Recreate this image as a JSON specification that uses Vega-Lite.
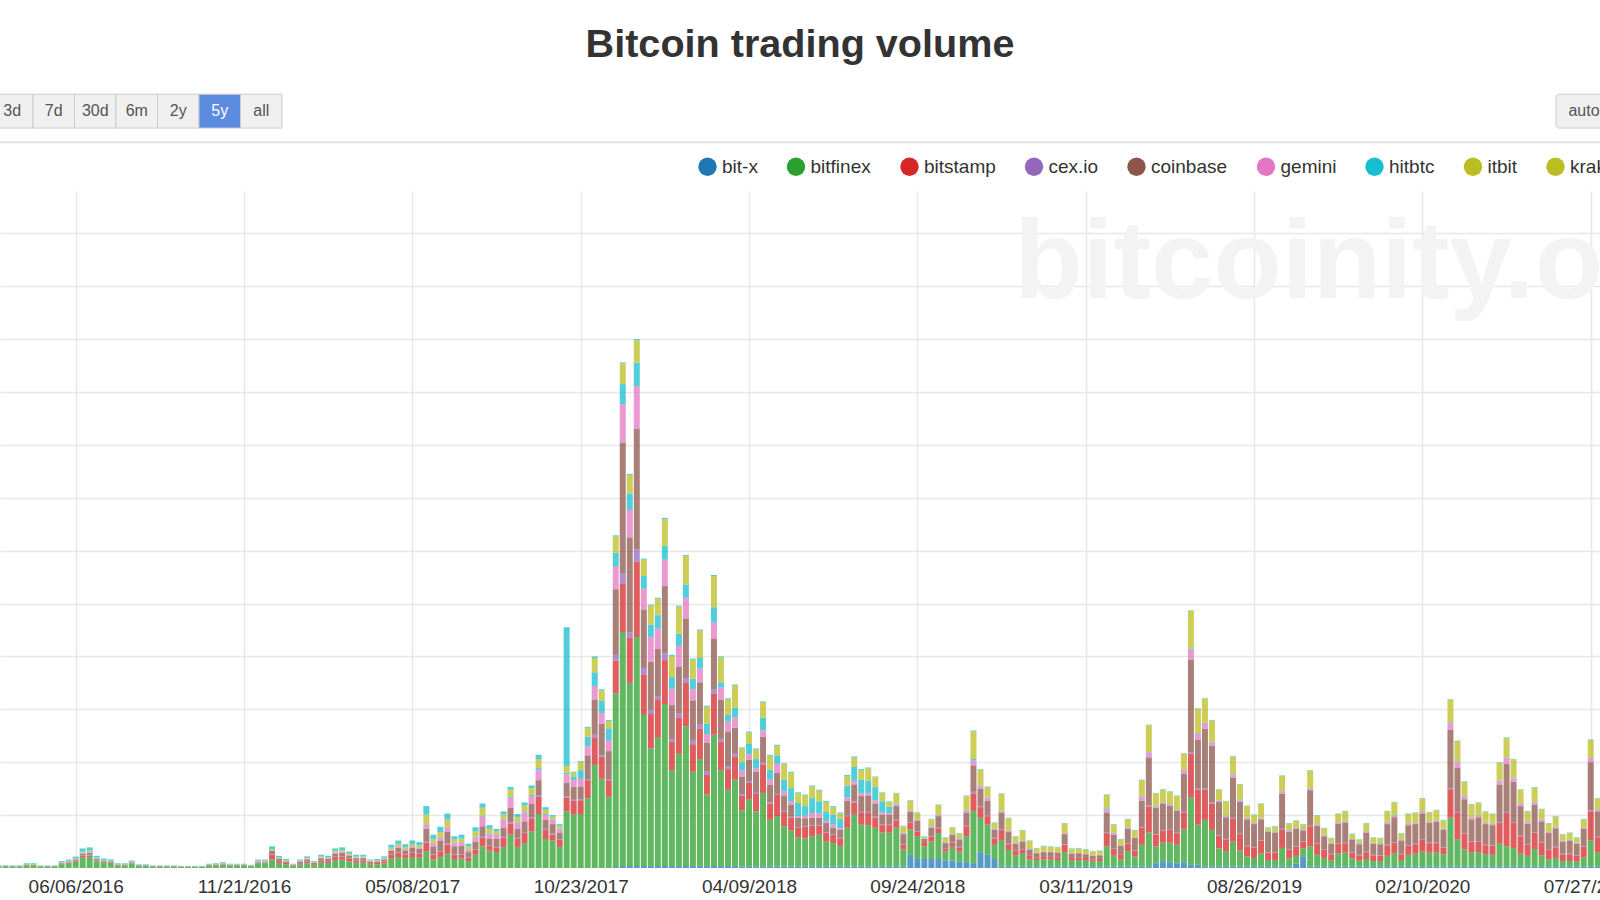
{
"$schema": "https://vega.github.io/schema/vega-lite/v6.json",
"width": 1600,
"height": 677,
"autosize": {"type": "none"},
"padding": {"top": 191, "left": 0, "right": 0, "bottom": 32},
"background": "white",
"config": {"view": {"stroke": null}, "font": "Liberation Sans"},
"title": {"text": "Bitcoin trading volume", "fontSize": 39.6, "fontWeight": "bold", "color": "#333333", "anchor": "middle", "frame": "group", "offset": 28, "font": "Liberation Sans"},
"resolve": {"scale": {"x": "independent"}},
"layer": [
{
"layer": [
{
"data": {"values": [{"label": "bitcoinity.org"}]},
"mark": {"type": "text", "fontSize": 112, "fontWeight": "bold", "font": "Liberation Sans", "color": "#f3f3f3", "align": "left", "baseline": "alphabetic"},
"encoding": {
"x": {"datum": {"year": 2018, "month": 12, "date": 29, "hours": 14, "utc": true}, "type": "temporal"},
"y": {"datum": 1078},
"text": {"field": "label"}
}
},
{
"data": {"values": [
{"d":"2016-03-21","bitfinex":2.8,"bitstamp":0.4,"cexio":0.2,"coinbase":0.4,"gemini":0.2,"hitbtc":0.1,"kraken":0.3,"others":0.6},
{"d":"2016-03-28","bitfinex":2.8,"bitstamp":0.4,"cexio":0.2,"coinbase":0.4,"gemini":0.2,"hitbtc":0.1,"kraken":0.3,"others":0.6},
{"d":"2016-04-04","bitfinex":2.8,"bitstamp":0.4,"cexio":0.2,"coinbase":0.4,"gemini":0.2,"hitbtc":0.1,"kraken":0.3,"others":0.6},
{"d":"2016-04-11","bitfinex":2.8,"bitstamp":0.4,"cexio":0.2,"coinbase":0.4,"gemini":0.2,"hitbtc":0.1,"kraken":0.3,"others":0.6},
{"d":"2016-04-18","bitfinex":5,"bitstamp":0.6,"cexio":0.4,"coinbase":0.7,"gemini":0.3,"hitbtc":0.2,"kraken":0.5,"others":1.3},
{"d":"2016-04-25","bitfinex":5,"bitstamp":0.6,"cexio":0.4,"coinbase":0.7,"gemini":0.3,"hitbtc":0.2,"kraken":0.5,"others":1.3},
{"d":"2016-05-02","bitfinex":2.8,"bitstamp":0.4,"cexio":0.2,"coinbase":0.4,"gemini":0.2,"hitbtc":0.1,"kraken":0.3,"others":0.6},
{"d":"2016-05-09","bitfinex":2.8,"bitstamp":0.4,"cexio":0.2,"coinbase":0.4,"gemini":0.2,"hitbtc":0.1,"kraken":0.3,"others":0.6},
{"d":"2016-05-16","bitfinex":2.8,"bitstamp":0.4,"cexio":0.2,"coinbase":0.4,"gemini":0.2,"hitbtc":0.1,"kraken":0.3,"others":0.6},
{"d":"2016-05-23","bitfinex":7,"bitstamp":1,"cexio":0.5,"coinbase":1,"gemini":0.4,"hitbtc":0.3,"kraken":0.8,"others":2},
{"d":"2016-05-30","bitfinex":9,"bitstamp":1.1,"cexio":0.6,"coinbase":1.3,"gemini":0.5,"hitbtc":0.3,"kraken":1,"others":2.2},
{"d":"2016-06-06","bit-x":0.5,"bitfinex":11.5,"bitstamp":1.5,"cexio":0.8,"coinbase":1.7,"gemini":0.6,"hitbtc":0.4,"kraken":1.3,"others":3.2},
{"d":"2016-06-13","bitfinex":20,"bitstamp":2.6,"cexio":1.5,"coinbase":3,"gemini":1.1,"hitbtc":0.7,"kraken":2.2,"others":5.9},
{"d":"2016-06-20","bitfinex":21,"bitstamp":2.7,"cexio":1.6,"coinbase":3.1,"gemini":1.2,"hitbtc":0.8,"kraken":2.4,"others":6.2},
{"d":"2016-06-27","bitfinex":12.6,"bitstamp":1.6,"cexio":0.9,"coinbase":1.8,"gemini":0.7,"hitbtc":0.5,"kraken":1.4,"others":3.5},
{"d":"2016-07-04","bitfinex":10,"bitstamp":1.2,"cexio":0.7,"coinbase":1.4,"gemini":0.5,"hitbtc":0.4,"kraken":1.1,"others":2.7},
{"d":"2016-07-11","bit-x":0.5,"bitfinex":9,"bitstamp":1.1,"cexio":0.6,"coinbase":1.3,"gemini":0.5,"hitbtc":0.3,"kraken":1,"others":2.2},
{"d":"2016-07-18","bitfinex":5,"bitstamp":0.6,"cexio":0.4,"coinbase":0.7,"gemini":0.3,"hitbtc":0.2,"kraken":0.5,"others":1.3},
{"d":"2016-07-25","bitfinex":5,"bitstamp":0.6,"cexio":0.4,"coinbase":0.7,"gemini":0.3,"hitbtc":0.2,"kraken":0.5,"others":1.3},
{"d":"2016-08-01","bitfinex":7.7,"bitstamp":1,"cexio":0.5,"coinbase":1.1,"gemini":0.4,"hitbtc":0.3,"kraken":0.8,"others":2.2},
{"d":"2016-08-08","bitfinex":3.9,"bitstamp":0.5,"cexio":0.3,"coinbase":0.5,"gemini":0.2,"hitbtc":0.1,"kraken":0.4,"others":1.1},
{"d":"2016-08-15","bitfinex":3.9,"bitstamp":0.5,"cexio":0.3,"coinbase":0.5,"gemini":0.2,"hitbtc":0.1,"kraken":0.4,"others":1.1},
{"d":"2016-08-22","bitfinex":2.8,"bitstamp":0.4,"cexio":0.2,"coinbase":0.4,"gemini":0.2,"hitbtc":0.1,"kraken":0.3,"others":0.6},
{"d":"2016-08-29","bitfinex":2.8,"bitstamp":0.4,"cexio":0.2,"coinbase":0.4,"gemini":0.2,"hitbtc":0.1,"kraken":0.3,"others":0.6},
{"d":"2016-09-05","bitfinex":2.8,"bitstamp":0.4,"cexio":0.2,"coinbase":0.4,"gemini":0.2,"hitbtc":0.1,"kraken":0.3,"others":0.6},
{"d":"2016-09-12","bitfinex":2.8,"bitstamp":0.4,"cexio":0.2,"coinbase":0.4,"gemini":0.2,"hitbtc":0.1,"kraken":0.3,"others":0.6},
{"d":"2016-09-19","bitfinex":2.2,"bitstamp":0.3,"cexio":0.2,"coinbase":0.3,"gemini":0.1,"hitbtc":0.1,"kraken":0.3,"others":0.5},
{"d":"2016-09-26","bitfinex":2.2,"bitstamp":0.3,"cexio":0.2,"coinbase":0.3,"gemini":0.1,"hitbtc":0.1,"kraken":0.3,"others":0.5},
{"d":"2016-10-03","bitfinex":2.2,"bitstamp":0.3,"cexio":0.2,"coinbase":0.3,"gemini":0.1,"hitbtc":0.1,"kraken":0.3,"others":0.5},
{"d":"2016-10-10","bitfinex":2.2,"bitstamp":0.3,"cexio":0.2,"coinbase":0.3,"gemini":0.1,"hitbtc":0.1,"kraken":0.3,"others":0.5},
{"d":"2016-10-17","bitfinex":4.4,"bitstamp":0.6,"cexio":0.3,"coinbase":0.6,"gemini":0.2,"hitbtc":0.2,"kraken":0.5,"others":1.2},
{"d":"2016-10-24","bitfinex":5,"bitstamp":0.6,"cexio":0.4,"coinbase":0.7,"gemini":0.3,"hitbtc":0.2,"kraken":0.5,"others":1.3},
{"d":"2016-10-31","bitfinex":6,"bitstamp":0.8,"cexio":0.4,"coinbase":0.9,"gemini":0.3,"hitbtc":0.2,"kraken":0.7,"others":1.7},
{"d":"2016-11-07","bitfinex":4.4,"bitstamp":0.6,"cexio":0.3,"coinbase":0.6,"gemini":0.2,"hitbtc":0.2,"kraken":0.5,"others":1.2},
{"d":"2016-11-14","bitfinex":4.4,"bitstamp":0.6,"cexio":0.3,"coinbase":0.6,"gemini":0.2,"hitbtc":0.2,"kraken":0.5,"others":1.2},
{"d":"2016-11-21","bitfinex":4.4,"bitstamp":0.6,"cexio":0.3,"coinbase":0.6,"gemini":0.2,"hitbtc":0.2,"kraken":0.5,"others":1.2},
{"d":"2016-11-28","bitfinex":3.3,"bitstamp":0.4,"cexio":0.2,"coinbase":0.5,"gemini":0.2,"hitbtc":0.1,"kraken":0.4,"others":0.9},
{"d":"2016-12-05","bitfinex":9,"bitstamp":1.1,"cexio":0.6,"coinbase":1.3,"gemini":0.5,"hitbtc":0.3,"kraken":1,"others":2.2},
{"d":"2016-12-12","bitfinex":9,"bitstamp":1.1,"cexio":0.6,"coinbase":1.3,"gemini":0.5,"hitbtc":0.3,"kraken":1,"others":2.2},
{"d":"2016-12-19","bitfinex":16,"bitstamp":9,"cexio":1,"coinbase":6,"gemini":1.5,"hitbtc":0.5,"kraken":2,"others":5},
{"d":"2016-12-26","bitfinex":9.2,"bitstamp":3.7,"cexio":0.5,"coinbase":3.7,"gemini":1.2,"hitbtc":0.2,"kraken":1.8,"others":2.7},
{"d":"2017-01-02","bitfinex":6.8,"bitstamp":2.7,"cexio":0.3,"coinbase":2.7,"gemini":0.9,"hitbtc":0.2,"kraken":1.4,"others":2},
{"d":"2017-01-09","bitfinex":3.2,"bitstamp":1.3,"cexio":0.2,"coinbase":1.3,"gemini":0.4,"hitbtc":0.1,"kraken":0.6,"others":0.9},
{"d":"2017-01-16","bitfinex":6.4,"bitstamp":2.6,"cexio":0.3,"coinbase":2.6,"gemini":0.8,"hitbtc":0.2,"kraken":1.3,"others":1.8},
{"d":"2017-01-23","bitfinex":8.8,"bitstamp":3.5,"cexio":0.4,"coinbase":3.5,"gemini":1.1,"hitbtc":0.2,"kraken":1.8,"others":2.7},
{"d":"2017-01-30","bitfinex":5.2,"bitstamp":2.1,"cexio":0.3,"coinbase":2.1,"gemini":0.6,"hitbtc":0.1,"kraken":1,"others":1.6},
{"d":"2017-02-06","bitfinex":10,"bitstamp":4,"cexio":0.5,"coinbase":4,"gemini":1.2,"hitbtc":0.3,"kraken":2,"others":3},
{"d":"2017-02-13","bitfinex":9.2,"bitstamp":3.7,"cexio":0.5,"coinbase":3.7,"gemini":1.2,"hitbtc":0.2,"kraken":1.8,"others":2.7},
{"d":"2017-02-20","bitfinex":14.8,"bitstamp":5.9,"cexio":0.7,"coinbase":5.9,"gemini":1.9,"hitbtc":0.4,"kraken":3,"others":4.4},
{"d":"2017-02-27","bitfinex":15.6,"bitstamp":6.2,"cexio":0.8,"coinbase":6.2,"gemini":2,"hitbtc":0.4,"kraken":3.1,"others":4.7},
{"d":"2017-03-06","bitfinex":12.4,"bitstamp":5,"cexio":0.6,"coinbase":5,"gemini":1.5,"hitbtc":0.3,"kraken":2.5,"others":3.7},
{"d":"2017-03-13","bitfinex":10,"bitstamp":4,"cexio":0.5,"coinbase":4,"gemini":1.2,"hitbtc":0.3,"kraken":2,"others":3},
{"d":"2017-03-20","bitfinex":10,"bitstamp":4,"cexio":0.5,"coinbase":4,"gemini":1.2,"hitbtc":0.3,"kraken":2,"others":3},
{"d":"2017-03-27","bitfinex":6.4,"bitstamp":2.6,"cexio":0.3,"coinbase":2.6,"gemini":0.8,"hitbtc":0.2,"kraken":1.3,"others":1.8},
{"d":"2017-04-03","bitfinex":6.8,"bitstamp":2.7,"cexio":0.3,"coinbase":2.7,"gemini":0.9,"hitbtc":0.2,"kraken":1.4,"others":2},
{"d":"2017-04-10","bitfinex":8.8,"bitstamp":3.5,"cexio":0.4,"coinbase":3.5,"gemini":1.1,"hitbtc":0.2,"kraken":1.8,"others":2.7},
{"d":"2017-04-17","bitfinex":17.6,"bitstamp":7,"cexio":0.9,"coinbase":7,"gemini":2.2,"hitbtc":0.4,"kraken":3.5,"others":5.4},
{"d":"2017-04-24","bitfinex":20.8,"bitstamp":8.3,"cexio":1,"coinbase":8.3,"gemini":2.6,"hitbtc":0.5,"kraken":4.2,"others":6.3},
{"d":"2017-05-01","bitfinex":18,"bitstamp":7.2,"cexio":0.9,"coinbase":7.2,"gemini":2.3,"hitbtc":0.4,"kraken":3.6,"others":5.4},
{"d":"2017-05-08","bitfinex":20.8,"bitstamp":8.3,"cexio":1,"coinbase":8.3,"gemini":2.6,"hitbtc":0.5,"kraken":4.2,"others":6.3},
{"d":"2017-05-15","bitfinex":19.6,"bitstamp":7.8,"cexio":1,"coinbase":7.8,"gemini":2.5,"hitbtc":0.5,"kraken":3.9,"others":5.9},
{"d":"2017-05-22","bitfinex":31,"bitstamp":17,"cexio":3,"coinbase":23,"gemini":8,"hitbtc":1,"kraken":18,"others":16},
{"d":"2017-05-29","bitfinex":16,"bitstamp":9,"cexio":1,"coinbase":15,"gemini":6,"hitbtc":1,"kraken":7,"others":8},
{"d":"2017-06-05","bitfinex":20,"bitstamp":11,"cexio":1,"coinbase":20,"gemini":6,"hitbtc":1,"kraken":9,"others":10},
{"d":"2017-06-12","bitfinex":27,"bitstamp":17,"cexio":2,"coinbase":23,"gemini":8,"hitbtc":1,"kraken":14,"others":11},
{"d":"2017-06-19","bitfinex":17,"bitstamp":8,"cexio":1,"coinbase":15,"gemini":6,"hitbtc":1,"kraken":6,"others":6},
{"d":"2017-06-26","bitfinex":18,"bitstamp":7,"cexio":1,"coinbase":16,"gemini":6,"hitbtc":1,"kraken":7,"others":7},
{"d":"2017-07-03","bitfinex":13,"bitstamp":6,"cexio":1,"coinbase":10,"gemini":4,"hitbtc":1,"kraken":6,"others":5},
{"d":"2017-07-10","bitfinex":25,"bitstamp":9,"cexio":1,"coinbase":15,"gemini":8,"hitbtc":1,"kraken":10,"others":8},
{"d":"2017-07-17","bitfinex":41,"bitstamp":16,"cexio":2,"coinbase":20,"gemini":19,"hitbtc":1,"kraken":15,"others":8},
{"d":"2017-07-24","bitfinex":33,"bitstamp":9,"cexio":1,"coinbase":13,"gemini":9,"hitbtc":1,"kraken":8,"others":7},
{"d":"2017-07-31","bitfinex":30,"bitstamp":8,"cexio":1,"coinbase":16,"gemini":8,"hitbtc":1,"kraken":6,"others":4},
{"d":"2017-08-07","bitfinex":40,"bitstamp":17,"cexio":2,"coinbase":17,"gemini":16,"hitbtc":1,"kraken":8,"others":6},
{"d":"2017-08-14","bitfinex":63,"bitstamp":21,"cexio":2,"coinbase":28,"gemini":19,"hitbtc":2,"kraken":13,"others":5},
{"d":"2017-08-21","bitfinex":40,"bitstamp":15,"cexio":2,"coinbase":17,"gemini":12,"hitbtc":1,"kraken":9,"others":6},
{"d":"2017-08-28","bitfinex":47,"bitstamp":19,"cexio":2,"coinbase":20,"gemini":17,"hitbtc":2,"kraken":11,"others":6},
{"d":"2017-09-04","bitfinex":69,"bitstamp":25,"cexio":2,"coinbase":26,"gemini":14,"hitbtc":2,"kraken":13,"others":5},
{"d":"2017-09-11","bitfinex":102,"bitstamp":33,"cexio":3,"coinbase":28,"gemini":20,"hitbtc":3,"kraken":17,"others":8},
{"d":"2017-09-18","bitfinex":55,"bitstamp":17,"cexio":2,"coinbase":17,"gemini":9,"hitbtc":2,"kraken":8,"others":5},
{"d":"2017-09-25","bitfinex":52,"bitstamp":11,"cexio":2,"coinbase":18,"gemini":8,"hitbtc":1,"kraken":5,"others":3},
{"d":"2017-10-02","bitfinex":40,"bitstamp":13,"cexio":1,"coinbase":13,"gemini":6,"hitbtc":1,"kraken":6,"others":3},
{"d":"2017-10-09","bitfinex":107,"bitstamp":26,"cexio":2,"coinbase":26,"gemini":16,"hitbtc":3,"kraken":13,"others":262},
{"d":"2017-10-16","bitfinex":101,"bitstamp":26,"cexio":2,"coinbase":24,"gemini":13,"hitbtc":6,"kraken":8,"others":2},
{"d":"2017-10-23","bitfinex":102,"bitstamp":26,"cexio":2,"coinbase":24,"gemini":15,"hitbtc":16,"kraken":15,"others":2},
{"d":"2017-10-30","bitfinex":132,"bitstamp":34,"cexio":2,"coinbase":45,"gemini":17,"hitbtc":18,"kraken":17,"others":2},
{"d":"2017-11-06","bitfinex":195,"bitstamp":52,"cexio":5,"coinbase":66,"gemini":26,"hitbtc":26,"kraken":27,"others":3},
{"d":"2017-11-13","bitfinex":169,"bitstamp":41,"cexio":3,"coinbase":60,"gemini":20,"hitbtc":23,"kraken":20,"others":2},
{"d":"2017-11-20","bitfinex":135,"bitstamp":31,"cexio":2,"coinbase":53,"gemini":20,"hitbtc":23,"kraken":14,"others":2},
{"d":"2017-11-27","bit-x":2,"bitfinex":328,"bitstamp":62,"cexio":11,"coinbase":124,"gemini":44,"hitbtc":25,"kraken":31,"others":2},
{"d":"2017-12-04","bit-x":4,"bitfinex":442,"bitstamp":91,"cexio":20,"coinbase":247,"gemini":73,"hitbtc":38,"kraken":39,"others":2},
{"d":"2017-12-11","bit-x":4,"bitfinex":346,"bitstamp":86,"cexio":10,"coinbase":179,"gemini":52,"hitbtc":31,"kraken":35,"others":2},
{"d":"2017-12-18","bit-x":4,"bitfinex":433,"bitstamp":142,"cexio":23,"coinbase":228,"gemini":81,"hitbtc":44,"kraken":43,"others":2},
{"d":"2017-12-25","bit-x":4,"bitfinex":287,"bitstamp":75,"cexio":12,"coinbase":111,"gemini":39,"hitbtc":24,"kraken":31,"others":2},
{"d":"2018-01-01","bit-x":4,"bitfinex":222,"bitstamp":65,"cexio":8,"coinbase":91,"gemini":47,"hitbtc":23,"kraken":36,"others":2},
{"d":"2018-01-08","bit-x":4,"bitfinex":243,"bitstamp":72,"cexio":6,"coinbase":89,"gemini":39,"hitbtc":25,"kraken":31,"others":2},
{"d":"2018-01-15","bit-x":4,"bitfinex":306,"bitstamp":83,"cexio":13,"coinbase":127,"gemini":50,"hitbtc":26,"kraken":51,"others":2},
{"d":"2018-01-22","bit-x":4,"bitfinex":181,"bitstamp":53,"cexio":5,"coinbase":65,"gemini":31,"hitbtc":22,"kraken":40,"others":2},
{"d":"2018-01-29","bit-x":4,"bitfinex":212,"bitstamp":68,"cexio":8,"coinbase":89,"gemini":39,"hitbtc":23,"kraken":51,"others":2},
{"d":"2018-02-05","bit-x":4,"bitfinex":264,"bitstamp":83,"cexio":8,"coinbase":113,"gemini":39,"hitbtc":25,"kraken":54,"others":2},
{"d":"2018-02-12","bit-x":4,"bitfinex":178,"bitstamp":52,"cexio":8,"coinbase":75,"gemini":21,"hitbtc":20,"kraken":36,"others":2},
{"d":"2018-02-19","bit-x":4,"bitfinex":202,"bitstamp":57,"cexio":8,"coinbase":80,"gemini":26,"hitbtc":20,"kraken":52,"others":2},
{"d":"2018-02-26","bit-x":4,"bitfinex":135,"bitstamp":37,"cexio":6,"coinbase":55,"gemini":16,"hitbtc":20,"kraken":32,"others":2},
{"d":"2018-03-05","bit-x":4,"bitfinex":248,"bitstamp":78,"cexio":8,"coinbase":96,"gemini":30,"hitbtc":29,"kraken":59,"others":2},
{"d":"2018-03-12","bit-x":4,"bitfinex":181,"bitstamp":53,"cexio":5,"coinbase":75,"gemini":23,"hitbtc":10,"kraken":47,"others":2},
{"d":"2018-03-19","bit-x":4,"bitfinex":144,"bitstamp":39,"cexio":5,"coinbase":65,"gemini":20,"hitbtc":13,"kraken":29,"others":2},
{"d":"2018-03-26","bit-x":4,"bitfinex":163,"bitstamp":44,"cexio":5,"coinbase":49,"gemini":20,"hitbtc":18,"kraken":42,"others":2},
{"d":"2018-04-02","bit-x":3,"bitfinex":106,"bitstamp":28,"cexio":3,"coinbase":33,"gemini":11,"hitbtc":16,"kraken":26,"others":2},
{"d":"2018-04-09","bit-x":3,"bitfinex":127,"bitstamp":31,"cexio":3,"coinbase":41,"gemini":10,"hitbtc":20,"kraken":21,"others":2},
{"d":"2018-04-16","bit-x":3,"bitfinex":104,"bitstamp":33,"cexio":2,"coinbase":40,"gemini":6,"hitbtc":18,"kraken":18,"others":2},
{"d":"2018-04-23","bit-x":3,"bitfinex":139,"bitstamp":54,"cexio":3,"coinbase":49,"gemini":12,"hitbtc":24,"kraken":29,"others":2},
{"d":"2018-04-30","bit-x":3,"bitfinex":88,"bitstamp":31,"cexio":2,"coinbase":33,"gemini":10,"hitbtc":19,"kraken":26,"others":2},
{"d":"2018-05-07","bit-x":3,"bitfinex":95,"bitstamp":40,"cexio":2,"coinbase":40,"gemini":17,"hitbtc":16,"kraken":18,"others":2},
{"d":"2018-05-14","bit-x":3,"bitfinex":76,"bitstamp":27,"cexio":2,"coinbase":28,"gemini":9,"hitbtc":22,"kraken":29,"others":2},
{"d":"2018-05-21","bit-x":3,"bitfinex":68,"bitstamp":24,"cexio":2,"coinbase":23,"gemini":6,"hitbtc":25,"kraken":29,"others":2},
{"d":"2018-05-28","bit-x":3,"bitfinex":55,"bitstamp":18,"cexio":1,"coinbase":18,"gemini":3,"hitbtc":25,"kraken":18,"others":2},
{"d":"2018-06-04","bit-x":3,"bitfinex":53,"bitstamp":22,"cexio":1,"coinbase":15,"gemini":5,"hitbtc":18,"kraken":20,"others":2},
{"d":"2018-06-11","bit-x":3,"bitfinex":57,"bitstamp":20,"cexio":1,"coinbase":14,"gemini":9,"hitbtc":28,"kraken":22,"others":2},
{"d":"2018-06-18","bit-x":3,"bitfinex":60,"bitstamp":17,"cexio":1,"coinbase":14,"gemini":8,"hitbtc":23,"kraken":20,"others":2},
{"d":"2018-06-25","bit-x":3,"bitfinex":47,"bitstamp":17,"cexio":1,"coinbase":17,"gemini":4,"hitbtc":17,"kraken":19,"others":2},
{"d":"2018-07-02","bit-x":3,"bitfinex":44,"bitstamp":16,"cexio":1,"coinbase":12,"gemini":6,"hitbtc":19,"kraken":14,"others":2},
{"d":"2018-07-09","bit-x":3,"bitfinex":39,"bitstamp":14,"cexio":1,"coinbase":15,"gemini":3,"hitbtc":18,"kraken":10,"others":2},
{"d":"2018-07-16","bit-x":3,"bitfinex":73,"bitstamp":22,"cexio":2,"coinbase":27,"gemini":6,"hitbtc":23,"kraken":18,"others":2},
{"d":"2018-07-23","bit-x":3,"bitfinex":98,"bitstamp":23,"cexio":2,"coinbase":32,"gemini":6,"hitbtc":27,"kraken":18,"others":2},
{"d":"2018-07-30","bit-x":3,"bitfinex":79,"bitstamp":22,"cexio":2,"coinbase":30,"gemini":5,"hitbtc":26,"kraken":18,"others":2},
{"d":"2018-08-06","bit-x":3,"bitfinex":78,"bitstamp":23,"cexio":2,"coinbase":31,"gemini":5,"hitbtc":23,"kraken":23,"others":2},
{"d":"2018-08-13","bit-x":3,"bitfinex":73,"bitstamp":19,"cexio":2,"coinbase":25,"gemini":6,"hitbtc":25,"kraken":19,"others":1},
{"d":"2018-08-20","bit-x":3,"bitfinex":64,"bitstamp":14,"cexio":1,"coinbase":19,"gemini":4,"hitbtc":21,"kraken":16,"others":1},
{"d":"2018-08-27","bit-x":3,"bitfinex":64,"bitstamp":14,"cexio":1,"coinbase":19,"gemini":3,"hitbtc":12,"kraken":9,"others":1},
{"d":"2018-09-03","bit-x":3,"bitfinex":73,"bitstamp":14,"cexio":1,"coinbase":26,"gemini":3,"hitbtc":2,"kraken":19,"others":1},
{"d":"2018-09-10","bit-x":3,"bitfinex":32,"bitstamp":9,"cexio":1,"coinbase":19,"gemini":2,"hitbtc":1,"kraken":12,"others":1},
{"d":"2018-09-17","bit-x":25,"bitfinex":48,"bitstamp":13,"cexio":1,"coinbase":19,"gemini":2,"hitbtc":1,"kraken":18,"others":1},
{"d":"2018-09-24","bit-x":17,"bitfinex":43,"bitstamp":9,"cexio":1,"coinbase":19,"gemini":2,"hitbtc":1,"kraken":12,"others":1},
{"d":"2018-10-01","bit-x":17,"bitfinex":24,"bitstamp":8,"coinbase":6,"gemini":1,"kraken":3,"others":1},
{"d":"2018-10-08","bit-x":17,"bitfinex":33,"bitstamp":9,"cexio":1,"coinbase":16,"gemini":2,"hitbtc":1,"kraken":13,"others":1},
{"d":"2018-10-15","bit-x":17,"bitfinex":49,"bitstamp":9,"cexio":1,"coinbase":22,"gemini":2,"hitbtc":1,"kraken":18,"others":1},
{"d":"2018-10-22","bit-x":14,"bitfinex":17,"bitstamp":6,"coinbase":10,"gemini":1,"hitbtc":1,"kraken":8,"others":1},
{"d":"2018-10-29","bit-x":14,"bitfinex":26,"bitstamp":8,"cexio":1,"coinbase":14,"gemini":1,"hitbtc":1,"kraken":11,"others":1},
{"d":"2018-11-05","bit-x":12,"bitfinex":19,"bitstamp":8,"cexio":1,"coinbase":14,"gemini":1,"hitbtc":1,"kraken":9,"others":1},
{"d":"2018-11-12","bit-x":11,"bitfinex":49,"bitstamp":19,"cexio":1,"coinbase":25,"gemini":4,"hitbtc":1,"kraken":26,"others":1},
{"d":"2018-11-19","bit-x":9,"bitfinex":99,"bitstamp":33,"cexio":3,"coinbase":50,"gemini":9,"hitbtc":3,"kraken":52,"others":2},
{"d":"2018-11-26","bit-x":30,"bitfinex":65,"bitstamp":20,"cexio":2,"coinbase":33,"gemini":5,"hitbtc":1,"kraken":30,"others":1},
{"d":"2018-12-03","bit-x":25,"bitfinex":57,"bitstamp":16,"cexio":1,"coinbase":28,"gemini":5,"hitbtc":1,"kraken":20,"others":1},
{"d":"2018-12-10","bit-x":17,"bitfinex":27,"bitstamp":12,"cexio":1,"coinbase":15,"gemini":2,"hitbtc":1,"kraken":10,"others":1},
{"d":"2018-12-17","bit-x":3,"bitfinex":50,"bitstamp":19,"cexio":1,"coinbase":31,"gemini":3,"hitbtc":1,"kraken":32,"others":1},
{"d":"2018-12-24","bit-x":3,"bitfinex":31,"bitstamp":11,"cexio":1,"coinbase":22,"gemini":2,"hitbtc":1,"kraken":23,"others":1},
{"d":"2018-12-31","bit-x":3,"bitfinex":21,"bitstamp":9,"coinbase":13,"gemini":1,"hitbtc":1,"kraken":11,"others":1},
{"d":"2019-01-07","bit-x":3,"bitfinex":24,"bitstamp":8,"cexio":1,"coinbase":14,"gemini":1,"hitbtc":1,"kraken":19,"others":1},
{"d":"2019-01-14","bit-x":3,"bitfinex":13,"bitstamp":8,"coinbase":11,"gemini":1,"hitbtc":1,"kraken":14,"others":1},
{"d":"2019-01-21","bit-x":3,"bitfinex":12,"bitstamp":5,"coinbase":8,"gemini":1,"kraken":8,"others":1},
{"d":"2019-01-28","bit-x":3,"bitfinex":13,"bitstamp":5,"coinbase":9,"gemini":1,"kraken":10,"others":1},
{"d":"2019-02-04","bit-x":3,"bitfinex":13,"bitstamp":5,"coinbase":9,"gemini":1,"kraken":9,"others":1},
{"d":"2019-02-11","bit-x":3,"bitfinex":12,"bitstamp":5,"coinbase":9,"gemini":1,"kraken":9,"others":1},
{"d":"2019-02-18","bit-x":3,"bitfinex":27,"bitstamp":14,"cexio":1,"coinbase":19,"gemini":2,"kraken":18,"others":1},
{"d":"2019-02-25","bit-x":3,"bitfinex":11,"bitstamp":5,"coinbase":8,"gemini":1,"kraken":8,"others":1},
{"d":"2019-03-04","bit-x":3,"bitfinex":12,"bitstamp":5,"coinbase":8,"gemini":1,"kraken":8,"others":1},
{"d":"2019-03-11","bit-x":3,"bitfinex":11,"bitstamp":5,"coinbase":7,"gemini":1,"kraken":8,"others":1},
{"d":"2019-03-18","bit-x":3,"bitfinex":9,"bitstamp":4,"coinbase":7,"gemini":1,"kraken":7,"others":1},
{"d":"2019-03-25","bit-x":3,"bitfinex":10,"bitstamp":4,"coinbase":7,"gemini":1,"kraken":7,"others":1},
{"d":"2019-04-01","bit-x":3,"bitfinex":38,"bitstamp":25,"cexio":1,"coinbase":38,"gemini":6,"hitbtc":2,"kraken":25,"others":1},
{"d":"2019-04-08","bit-x":3,"bitfinex":20,"bitstamp":13,"cexio":1,"coinbase":26,"gemini":3,"hitbtc":1,"kraken":15,"others":1},
{"d":"2019-04-15","bit-x":3,"bitfinex":13,"bitstamp":9,"coinbase":17,"gemini":1,"kraken":11,"others":1},
{"d":"2019-04-22","bit-x":3,"bitfinex":29,"bitstamp":14,"cexio":1,"coinbase":27,"gemini":2,"hitbtc":1,"kraken":15,"others":1},
{"d":"2019-04-29","bit-x":3,"bitfinex":19,"bitstamp":11,"cexio":1,"coinbase":23,"gemini":1,"kraken":13,"others":1},
{"d":"2019-05-06","bit-x":3,"bitfinex":41,"bitstamp":32,"cexio":1,"coinbase":50,"gemini":8,"hitbtc":1,"kraken":30,"others":1},
{"d":"2019-05-13","bit-x":3,"bitfinex":64,"bitstamp":49,"cexio":2,"coinbase":91,"gemini":9,"hitbtc":1,"kraken":51,"others":1},
{"d":"2019-05-20","bit-x":9,"bitfinex":32,"bitstamp":22,"cexio":1,"coinbase":50,"gemini":2,"hitbtc":1,"kraken":24,"others":1},
{"d":"2019-05-27","bit-x":13,"bitfinex":35,"bitstamp":22,"cexio":1,"coinbase":50,"gemini":2,"hitbtc":1,"kraken":24,"others":1},
{"d":"2019-06-03","bit-x":11,"bitfinex":37,"bitstamp":24,"cexio":1,"coinbase":45,"gemini":2,"hitbtc":1,"kraken":23,"others":1},
{"d":"2019-06-10","bit-x":9,"bitfinex":35,"bitstamp":22,"cexio":1,"coinbase":41,"gemini":2,"hitbtc":1,"kraken":25,"others":1},
{"d":"2019-06-17","bit-x":11,"bitfinex":62,"bitstamp":32,"cexio":1,"coinbase":72,"gemini":6,"hitbtc":1,"kraken":31,"others":1},
{"d":"2019-06-24","bit-x":6,"bitfinex":128,"bitstamp":82,"cexio":2,"coinbase":176,"gemini":19,"hitbtc":2,"kraken":71,"others":1},
{"d":"2019-07-01","bit-x":6,"bitfinex":76,"bitstamp":66,"cexio":2,"coinbase":93,"gemini":11,"hitbtc":1,"kraken":46,"others":1},
{"d":"2019-07-08","bit-x":3,"bitfinex":88,"bitstamp":57,"cexio":2,"coinbase":113,"gemini":11,"hitbtc":1,"kraken":45,"others":1},
{"d":"2019-07-15","bit-x":3,"bitfinex":69,"bitstamp":50,"cexio":2,"coinbase":107,"gemini":6,"hitbtc":1,"kraken":41,"others":1},
{"d":"2019-07-22","bit-x":3,"bitfinex":34,"bitstamp":24,"cexio":1,"coinbase":63,"gemini":2,"hitbtc":1,"kraken":20,"others":1},
{"d":"2019-07-29","bit-x":3,"bitfinex":29,"bitstamp":22,"cexio":1,"coinbase":41,"gemini":2,"hitbtc":1,"kraken":27,"others":1},
{"d":"2019-08-05","bit-x":3,"bitfinex":47,"bitstamp":44,"cexio":1,"coinbase":76,"gemini":6,"hitbtc":1,"kraken":33,"others":1},
{"d":"2019-08-12","bit-x":3,"bitfinex":30,"bitstamp":31,"cexio":1,"coinbase":60,"gemini":3,"hitbtc":1,"kraken":29,"others":1},
{"d":"2019-08-19","bit-x":3,"bitfinex":19,"bitstamp":19,"cexio":1,"coinbase":50,"gemini":2,"hitbtc":1,"kraken":22,"others":1},
{"d":"2019-08-26","bit-x":3,"bitfinex":16,"bitstamp":19,"cexio":1,"coinbase":44,"gemini":2,"hitbtc":1,"kraken":14,"others":1},
{"d":"2019-09-02","bit-x":3,"bitfinex":25,"bitstamp":23,"cexio":1,"coinbase":40,"gemini":2,"hitbtc":1,"kraken":26,"others":1},
{"d":"2019-09-09","bit-x":3,"bitfinex":12,"bitstamp":14,"cexio":1,"coinbase":38,"gemini":1,"hitbtc":1,"kraken":6,"others":1},
{"d":"2019-09-16","bit-x":3,"bitfinex":12,"bitstamp":14,"cexio":1,"coinbase":37,"gemini":1,"hitbtc":1,"kraken":9,"others":1},
{"d":"2019-09-23","bit-x":3,"bitfinex":35,"bitstamp":35,"cexio":1,"coinbase":66,"gemini":4,"hitbtc":1,"kraken":29,"others":1},
{"d":"2019-09-30","bit-x":3,"bitfinex":15,"bitstamp":17,"cexio":1,"coinbase":33,"gemini":2,"hitbtc":1,"kraken":12,"others":1},
{"d":"2019-10-07","bit-x":8,"bitfinex":15,"bitstamp":17,"cexio":1,"coinbase":33,"gemini":2,"hitbtc":1,"kraken":12,"others":1},
{"d":"2019-10-14","bit-x":22,"bitfinex":15,"bitstamp":13,"cexio":1,"coinbase":20,"gemini":1,"hitbtc":1,"kraken":9,"others":1},
{"d":"2019-10-21","bit-x":3,"bitfinex":38,"bitstamp":38,"cexio":1,"coinbase":67,"gemini":3,"hitbtc":1,"kraken":33,"others":1},
{"d":"2019-10-28","bit-x":3,"bitfinex":22,"bitstamp":21,"cexio":1,"coinbase":33,"gemini":2,"hitbtc":1,"kraken":16,"others":1},
{"d":"2019-11-04","bit-x":3,"bitfinex":16,"bitstamp":15,"cexio":1,"coinbase":25,"gemini":1,"hitbtc":1,"kraken":13,"others":1},
{"d":"2019-11-11","bit-x":3,"bitfinex":11,"bitstamp":12,"cexio":1,"coinbase":19,"gemini":1,"hitbtc":1,"kraken":8,"others":1},
{"d":"2019-11-18","bit-x":3,"bitfinex":25,"bitstamp":18,"cexio":1,"coinbase":37,"gemini":2,"hitbtc":1,"kraken":15,"others":1},
{"d":"2019-11-25","bit-x":3,"bitfinex":26,"bitstamp":18,"cexio":1,"coinbase":38,"gemini":2,"hitbtc":1,"kraken":18,"others":1},
{"d":"2019-12-02","bit-x":3,"bitfinex":15,"bitstamp":11,"cexio":1,"coinbase":24,"gemini":1,"hitbtc":1,"kraken":8,"others":1},
{"d":"2019-12-09","bit-x":3,"bitfinex":11,"bitstamp":10,"cexio":1,"coinbase":20,"gemini":1,"hitbtc":1,"kraken":6,"others":1},
{"d":"2019-12-16","bit-x":3,"bitfinex":14,"bitstamp":13,"cexio":1,"coinbase":36,"gemini":2,"hitbtc":1,"kraken":14,"others":1},
{"d":"2019-12-23","bit-x":3,"bitfinex":10,"bitstamp":11,"cexio":1,"coinbase":21,"gemini":1,"hitbtc":1,"kraken":9,"others":1},
{"d":"2019-12-30","bit-x":3,"bitfinex":10,"bitstamp":10,"cexio":1,"coinbase":21,"gemini":1,"hitbtc":1,"kraken":9,"others":1},
{"d":"2020-01-06","bit-x":3,"bitfinex":20,"bitstamp":20,"cexio":1,"coinbase":39,"gemini":3,"hitbtc":1,"kraken":20,"others":1},
{"d":"2020-01-13","bit-x":3,"bitfinex":25,"bitstamp":20,"cexio":1,"coinbase":47,"gemini":3,"hitbtc":1,"kraken":24,"others":1},
{"d":"2020-01-20","bit-x":3,"bitfinex":12,"bitstamp":11,"cexio":1,"coinbase":25,"gemini":1,"hitbtc":1,"kraken":11,"others":1},
{"d":"2020-01-27","bit-x":3,"bitfinex":22,"bitstamp":17,"cexio":1,"coinbase":38,"gemini":2,"hitbtc":1,"kraken":18,"others":1},
{"d":"2020-02-03","bit-x":3,"bitfinex":24,"bitstamp":18,"cexio":1,"coinbase":37,"gemini":2,"hitbtc":1,"kraken":18,"others":1},
{"d":"2020-02-10","bit-x":3,"bitfinex":28,"bitstamp":22,"cexio":1,"coinbase":49,"gemini":3,"hitbtc":1,"kraken":24,"others":1},
{"d":"2020-02-17","bit-x":3,"bitfinex":26,"bitstamp":18,"cexio":1,"coinbase":37,"gemini":2,"hitbtc":1,"kraken":17,"others":1},
{"d":"2020-02-24","bit-x":3,"bitfinex":26,"bitstamp":18,"cexio":1,"coinbase":39,"gemini":2,"hitbtc":1,"kraken":19,"others":1},
{"d":"2020-03-02","bit-x":3,"bitfinex":23,"bitstamp":12,"cexio":1,"coinbase":33,"gemini":2,"hitbtc":1,"kraken":15,"others":1},
{"d":"2020-03-09","bit-x":3,"bitfinex":92,"bitstamp":54,"cexio":2,"coinbase":110,"gemini":14,"hitbtc":1,"kraken":42,"others":1},
{"d":"2020-03-16","bit-x":3,"bitfinex":51,"bitstamp":50,"cexio":2,"coinbase":83,"gemini":11,"hitbtc":1,"kraken":39,"others":1},
{"d":"2020-03-23","bit-x":3,"bitfinex":32,"bitstamp":30,"cexio":1,"coinbase":64,"gemini":5,"hitbtc":1,"kraken":27,"others":1},
{"d":"2020-03-30","bit-x":3,"bitfinex":26,"bitstamp":20,"cexio":1,"coinbase":42,"gemini":3,"hitbtc":1,"kraken":24,"others":1},
{"d":"2020-04-06","bit-x":3,"bitfinex":27,"bitstamp":20,"cexio":1,"coinbase":45,"gemini":3,"hitbtc":1,"kraken":23,"others":1},
{"d":"2020-04-13","bit-x":3,"bitfinex":23,"bitstamp":17,"cexio":1,"coinbase":39,"gemini":2,"hitbtc":1,"kraken":20,"others":1},
{"d":"2020-04-20","bit-x":3,"bitfinex":22,"bitstamp":17,"cexio":1,"coinbase":38,"gemini":2,"hitbtc":1,"kraken":18,"others":1},
{"d":"2020-04-27","bit-x":3,"bitfinex":44,"bitstamp":38,"cexio":1,"coinbase":72,"gemini":6,"hitbtc":1,"kraken":34,"others":1},
{"d":"2020-05-04","bit-x":3,"bitfinex":38,"bitstamp":63,"cexio":2,"coinbase":91,"gemini":11,"hitbtc":1,"kraken":37,"others":1},
{"d":"2020-05-11","bit-x":3,"bitfinex":35,"bitstamp":48,"cexio":1,"coinbase":76,"gemini":6,"hitbtc":1,"kraken":35,"others":1},
{"d":"2020-05-18","bit-x":3,"bitfinex":24,"bitstamp":33,"cexio":1,"coinbase":56,"gemini":4,"hitbtc":1,"kraken":26,"others":1},
{"d":"2020-05-25","bit-x":3,"bitfinex":20,"bitstamp":21,"cexio":1,"coinbase":39,"gemini":3,"hitbtc":1,"kraken":19,"others":1},
{"d":"2020-06-01","bit-x":3,"bitfinex":33,"bitstamp":31,"cexio":1,"coinbase":52,"gemini":4,"hitbtc":1,"kraken":27,"others":1},
{"d":"2020-06-08","bit-x":3,"bitfinex":21,"bitstamp":24,"cexio":1,"coinbase":39,"gemini":3,"hitbtc":1,"kraken":19,"others":1},
{"d":"2020-06-15","bit-x":3,"bitfinex":13,"bitstamp":18,"cexio":1,"coinbase":31,"gemini":2,"hitbtc":1,"kraken":15,"others":1},
{"d":"2020-06-22","bit-x":3,"bitfinex":16,"bitstamp":20,"cexio":1,"coinbase":35,"gemini":2,"hitbtc":1,"kraken":19,"others":1},
{"d":"2020-06-29","bit-x":3,"bitfinex":10,"bitstamp":13,"cexio":1,"coinbase":23,"gemini":1,"hitbtc":1,"kraken":11,"others":1},
{"d":"2020-07-06","bit-x":3,"bitfinex":10,"bitstamp":13,"cexio":1,"coinbase":25,"gemini":1,"hitbtc":1,"kraken":12,"others":1},
{"d":"2020-07-13","bit-x":3,"bitfinex":9,"bitstamp":11,"cexio":1,"coinbase":22,"gemini":1,"hitbtc":1,"kraken":9,"others":1},
{"d":"2020-07-20","bit-x":3,"bitfinex":17,"bitstamp":20,"cexio":1,"coinbase":33,"gemini":2,"hitbtc":1,"kraken":15,"others":1},
{"d":"2020-07-27","bit-x":3,"bitfinex":49,"bitstamp":55,"cexio":2,"coinbase":91,"gemini":8,"hitbtc":1,"kraken":33,"others":1},
{"d":"2020-08-03","bit-x":3,"bitfinex":26,"bitstamp":29,"cexio":1,"coinbase":48,"gemini":3,"hitbtc":1,"kraken":20,"others":1}
]},
"transform": [
{"fold": ["bit-x","bitfinex","bitstamp","cexio","coinbase","gemini","hitbtc","itbit","kraken","others"], "as": ["exchange","volume"]},
{"filter": {"field": "volume", "valid": true}}
],
"mark": {"type": "bar", "width": 6, "opacity": 0.75, "clip": true},
"encoding": {
"x": {"field": "d", "type": "temporal",
"scale": {"type": "utc", "padding": 0, "nice": false, "domain": [{"year": 2016, "month": 3, "date": 22, "hours": 12, "utc": true}, {"year": 2020, "month": 8, "date": 5, "hours": 6, "utc": true}]},
"axis": {"title": null, "values": [
{"year": 2016, "month": 6, "date": 6, "utc": true},
{"year": 2016, "month": 11, "date": 21, "utc": true},
{"year": 2017, "month": 5, "date": 8, "utc": true},
{"year": 2017, "month": 10, "date": 23, "utc": true},
{"year": 2018, "month": 4, "date": 9, "utc": true},
{"year": 2018, "month": 9, "date": 24, "utc": true},
{"year": 2019, "month": 3, "date": 11, "utc": true},
{"year": 2019, "month": 8, "date": 26, "utc": true},
{"year": 2020, "month": 2, "date": 10, "utc": true},
{"year": 2020, "month": 7, "date": 27, "utc": true}],
"labelExpr": "utcFormat(datum.value, '%m/%d/%Y')", "labelFontSize": 19, "labelColor": "#333333", "labelFont": "Liberation Sans", "labelPadding": 9, "ticks": false, "domain": false, "grid": true, "gridColor": "#e8e8e8", "gridWidth": 1.5, "labelOverlap": false, "labelFlush": false}},
"y": {"field": "volume", "type": "quantitative", "stack": "zero",
"scale": {"domain": [0, 1280], "nice": false, "zero": true},
"axis": {"title": null, "values": [100,200,300,400,500,600,700,800,900,1000,1100,1200], "labels": false, "ticks": false, "domain": false, "grid": true, "gridColor": "#e8e8e8", "gridWidth": 1.5}},
"color": {"field": "exchange", "type": "nominal",
"scale": {"domain": ["bit-x","bitfinex","bitstamp","cexio","coinbase","gemini","hitbtc","itbit","kraken","others"], "range": ["#1f77b4","#2ca02c","#d62728","#9467bd","#8c564b","#e377c2","#17becf","#bcbd22","#bcbd22","#17becf"]},
"legend": {"orient": "none", "legendX": 698, "legendY": -34, "direction": "horizontal", "columns": 10, "title": null, "symbolType": "circle", "symbolSize": 340, "symbolOpacity": 1, "symbolStrokeWidth": 0, "labelFontSize": 19, "labelFont": "Liberation Sans", "labelColor": "#333333", "columnPadding": 28.5, "labelOffset": 5, "padding": 0, "labelExpr": "datum.label == 'cexio' ? 'cex.io' : datum.label"}},
"order": {"field": "exchange", "type": "nominal", "sort": "ascending"}
}
}
]
},
{
"data": {"values": [{"b":"1d"},{"b":"3d"},{"b":"7d"},{"b":"30d"},{"b":"6m"},{"b":"2y"},{"b":"5y"},{"b":"all"}]},
"layer": [
{"mark": {"type": "rect", "stroke": "#cccccc", "strokeWidth": 1},
"encoding": {
"x": {"field": "b", "type": "nominal", "sort": null, "scale": {"type": "band", "domain": ["1d","3d","7d","30d","6m","2y","5y","all"], "range": [-50, 282], "paddingInner": 0, "paddingOuter": 0}, "axis": null},
"y": {"datum": 1463}, "y2": {"datum": 1399},
"fill": {"condition": {"test": "datum.b === '5y'", "value": "#5b8ce0"}, "value": "#f0f0f0"}
}},
{"mark": {"type": "text", "fontSize": 16, "font": "Liberation Sans", "baseline": "middle"},
"encoding": {
"x": {"field": "b", "type": "nominal", "sort": null, "scale": {"type": "band", "domain": ["1d","3d","7d","30d","6m","2y","5y","all"], "range": [-50, 282], "paddingInner": 0, "paddingOuter": 0}, "axis": null},
"y": {"datum": 1431},
"text": {"field": "b"},
"color": {"condition": {"test": "datum.b === '5y'", "value": "#ffffff"}, "value": "#555555"}
}}
]
},
{
"data": {"values": [{"b":"auto"}]},
"layer": [
{"mark": {"type": "rect", "stroke": "#cccccc", "strokeWidth": 1, "cornerRadius": 3},
"encoding": {
"x": {"field": "b", "type": "nominal", "scale": {"type": "band", "domain": ["auto"], "range": [1556, 1612], "paddingInner": 0, "paddingOuter": 0}, "axis": null},
"y": {"datum": 1463}, "y2": {"datum": 1399},
"fill": {"value": "#f0f0f0"}
}},
{"mark": {"type": "text", "fontSize": 16, "font": "Liberation Sans", "baseline": "middle", "color": "#555555"},
"encoding": {
"x": {"field": "b", "type": "nominal", "scale": {"type": "band", "domain": ["auto"], "range": [1556, 1612], "paddingInner": 0, "paddingOuter": 0}, "axis": null},
"y": {"datum": 1431},
"text": {"field": "b"}
}}
]
},
{
"data": {"values": [{"line": "separator"}]},
"mark": {"type": "rule", "color": "#e3e3e3", "strokeWidth": 2},
"encoding": {"y": {"datum": 1372}}
}
]
}
